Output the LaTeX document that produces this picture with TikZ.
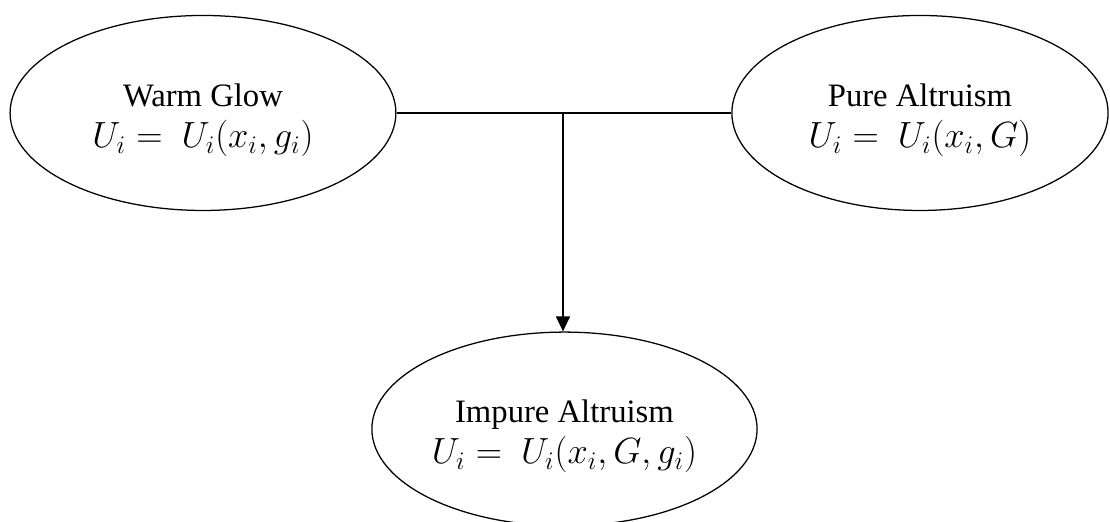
\documentclass[tikz,border=0pt]{standalone}
\usepackage{amsmath}
\usepackage{fontspec}
\setmainfont{Liberation Serif}
\usepackage{tikz}
\usetikzlibrary{arrows.meta,shapes.geometric,calc}

\newcommand{\formline}[1]{{\fontsize{16.8}{19}\selectfont$#1$}}
\newcommand{\topgap}{\rule{0pt}{18pt}}

\tikzset{
    utility/.style={draw, ellipse, line width=0.6pt, inner sep=0pt, align=center,
        font=\fontsize{15.5}{19.5}\selectfont},
    link/.style={line width=0.9pt}
}

\begin{document}
\begin{tikzpicture}[>={Triangle[length=0.25cm,width=0.23cm]}]
    \useasboundingbox (0,0) rectangle (18.5,-8.7);

    % Utility forms
    \node[utility, minimum width=6.43cm, minimum height=3.25cm] (warm) at (3.383,-1.883)
        {\topgap Warm Glow\\ \formline{U_i =\ U_i(x_i, g_i)}};
    \node[utility, minimum width=6.27cm, minimum height=3.25cm] (pure) at (15.333,-1.883)
        {\topgap Pure Altruism\\ \formline{U_i =\ U_i(x_i, G)}};
    \node[utility, minimum width=6.42cm, minimum height=3.23cm] (impure) at (9.408,-7.15)
        {\topgap Impure Altruism\\ \formline{U_i =\ U_i(x_i, G, g_i)}};

    % Joining line and arrow
    \draw[link] (warm.east) -- (pure.west);
    \coordinate (join) at (9.383,-1.883);
    \draw[link, ->] (join) -- (join |- impure.north);
\end{tikzpicture}
\end{document}
